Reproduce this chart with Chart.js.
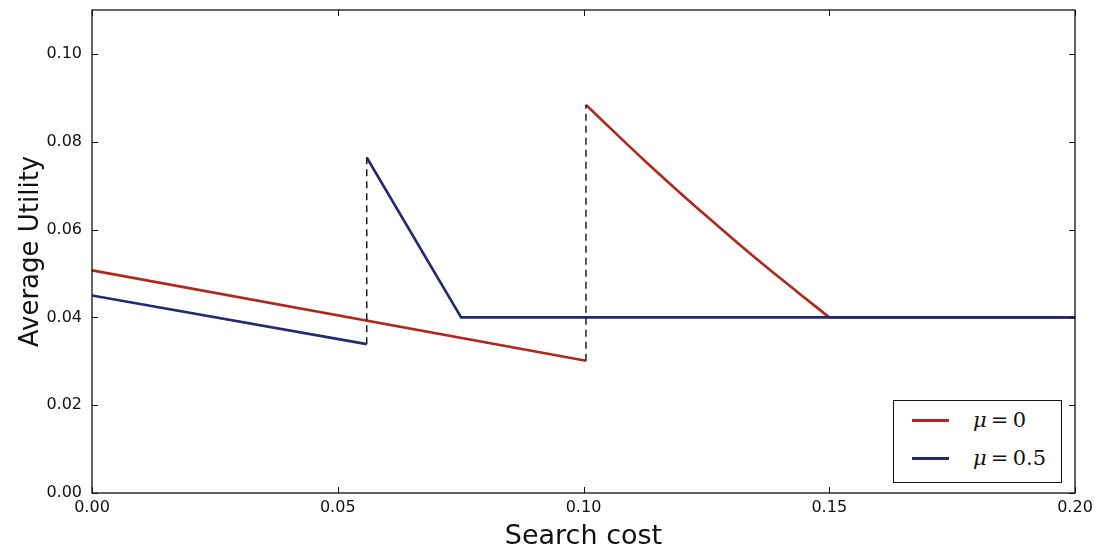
<!DOCTYPE html>
<html>
<head>
<meta charset="utf-8">
<script src="https://cdn.jsdelivr.net/npm/chart.js@4.4.1/dist/chart.umd.min.js"></script>
<style>
  html, body { margin: 0; padding: 0; background: #fff; }
  #wrap { position: relative; width: 1096px; height: 550px; }
  #legend { position: absolute; left: 893px; top: 400px; width: 167px; height: 81px;
            border: 1.2px solid #111; background: #fff; font-family: "DejaVu Serif", "Liberation Serif", serif; font-size: 21px; color: #111; }
  .row { position: absolute; left: 0; height: 30px; width: 100%; }
  .sw { position: absolute; left: 18px; width: 37px; height: 3px; top: 14px; }
  .lbl { position: absolute; left: 79px; top: 1px; line-height: 28px; white-space: nowrap; }
</style>
</head>
<body>
<div id="wrap">
  <canvas id="c" width="1096" height="550"></canvas>
  <div id="legend"></div>
</div>
<script>
// ---- data ----
const seriesNames = ["μ=0", "μ=0.5"];
const seriesColors = ["#b3261c", "#232a70"];
// mu = 0 : linear part, curved part after the jump, flat tail (null = break)
const redX = [0.0, 0.1005, null, 0.1005, 0.1073, 0.1130, 0.1191, 0.1256, 0.1313, 0.1374, 0.1435, 0.1500, null, 0.1500, 0.2000];
const redY = [0.0507, 0.0301, null, 0.0884, 0.0811, 0.0751, 0.0689, 0.0625, 0.0570, 0.0513, 0.0458, 0.0400, null, 0.0400, 0.0400];
// mu = 0.5
const blueX = [0.0, 0.0559, null, 0.0559, 0.0751, 0.2000];
const blueY = [0.0450, 0.0339, null, 0.0764, 0.0400, 0.0400];
// dashed jump connectors
const jump1X = [0.0559, 0.0559];
const jump1Y = [0.0339, 0.0764];
const jump2X = [0.1005, 0.1005];
const jump2Y = [0.0301, 0.0884];
// axes
const xTicks = [0.00, 0.05, 0.10, 0.15, 0.20];
const yTicks = [0.00, 0.02, 0.04, 0.06, 0.08, 0.10];
const xTitle = "Search cost";
const yTitle = "Average Utility";

function pts(xs, ys) { return xs.map((x, i) => ({ x: x === null ? NaN : x, y: ys[i] })); }

const dashStyle = { borderColor: "#111", borderWidth: 1.4, borderDash: [7, 5], pointRadius: 0, showLine: true, fill: false, order: 0 };

const ticksPlugin = {
  id: "inTicks",
  afterDraw(chart) {
    const { ctx, chartArea: a, scales } = chart;
    ctx.save();
    ctx.strokeStyle = "#111";
    ctx.lineWidth = 1;
    const L = 6;
    xTicks.forEach(v => {
      const px = Math.round(scales.x.getPixelForValue(v)) + 0.5;
      ctx.beginPath();
      ctx.moveTo(px, a.bottom); ctx.lineTo(px, a.bottom - L);
      ctx.moveTo(px, a.top); ctx.lineTo(px, a.top + L);
      ctx.stroke();
    });
    yTicks.forEach(v => {
      const py = Math.round(scales.y.getPixelForValue(v)) + 0.5;
      ctx.beginPath();
      ctx.moveTo(a.left, py); ctx.lineTo(a.left + L, py);
      ctx.moveTo(a.right, py); ctx.lineTo(a.right - L, py);
      ctx.stroke();
    });
    ctx.lineWidth = 1.3;
    ctx.strokeRect(a.left, a.top, a.right - a.left, a.bottom - a.top);
    ctx.restore();
  }
};

const chart = new Chart(document.getElementById("c"), {
  type: "scatter",
  data: {
    datasets: [
      { label: seriesNames[0], data: pts(redX, redY), borderColor: seriesColors[0], backgroundColor: seriesColors[0],
        borderWidth: 2.6, pointRadius: 0, showLine: true, spanGaps: false, fill: false, order: 2,
        cubicInterpolationMode: "monotone" },
      { label: seriesNames[1], data: pts(blueX, blueY), borderColor: seriesColors[1], backgroundColor: seriesColors[1],
        borderWidth: 2.6, pointRadius: 0, showLine: true, spanGaps: false, fill: false, order: 1 },
      Object.assign({ label: "jump1", data: pts(jump1X, jump1Y) }, dashStyle),
      Object.assign({ label: "jump2", data: pts(jump2X, jump2Y) }, dashStyle)
    ]
  },
  options: {
    responsive: false,
    animation: false,
    layout: { padding: { top: 10, right: 21, left: 0, bottom: 0 } },
    plugins: { legend: { display: false }, tooltip: { enabled: false } },
    scales: {
      x: {
        type: "linear", min: 0, max: 0.2,
        afterBuildTicks: s => { s.ticks = xTicks.map(v => ({ value: v })); },
        ticks: { callback: v => v.toFixed(2), color: "#111", padding: 5, maxRotation: 0,
                 font: { family: "DejaVu Sans", size: 16 } },
        grid: { drawOnChartArea: false, drawTicks: false },
        border: { display: false },
        title: { display: true, text: xTitle, color: "#111", padding: { top: 0, bottom: 0 },
                 font: { family: "DejaVu Sans", size: 27, lineHeight: 1.0 } },
        afterFit: s => { s.height = 57; s.paddingLeft = 0; s.paddingRight = 0; }
      },
      y: {
        type: "linear", min: 0, max: 0.11,
        afterBuildTicks: s => { s.ticks = yTicks.map(v => ({ value: v })); },
        ticks: { callback: v => v.toFixed(2), color: "#111", padding: 10,
                 font: { family: "DejaVu Sans", size: 16 } },
        grid: { drawOnChartArea: false, drawTicks: false },
        border: { display: false },
        title: { display: true, text: yTitle, color: "#111", padding: { top: 16, bottom: 0 },
                 font: { family: "DejaVu Sans", size: 26, lineHeight: 1.2 } },
        afterFit: s => { s.width = 92; s.paddingTop = 0; s.paddingBottom = 0; }
      }
    }
  },
  plugins: [ticksPlugin]
});

// HTML legend built from the dataset labels/colours
const leg = document.getElementById("legend");
seriesNames.forEach((name, i) => {
  const row = document.createElement("div");
  row.className = "row";
  row.style.top = (4 + i * 38) + "px";
  const sw = document.createElement("div");
  sw.className = "sw";
  sw.style.background = seriesColors[i];
  const lbl = document.createElement("div");
  lbl.className = "lbl";
  const parts = name.split("=");
  lbl.innerHTML = "<i>" + parts[0] + "</i>&thinsp;=&thinsp;" + parts[1];
  row.appendChild(sw); row.appendChild(lbl);
  leg.appendChild(row);
});
</script>
</body>
</html>
